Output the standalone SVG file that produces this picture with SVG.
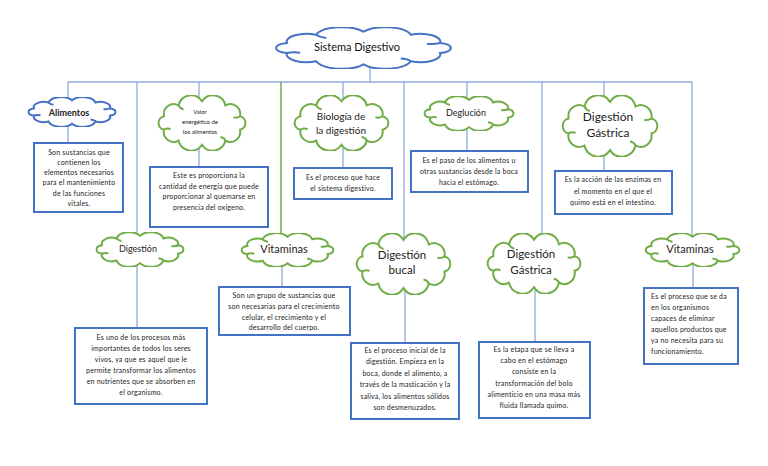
<svg xmlns="http://www.w3.org/2000/svg" xmlns:xlink="http://www.w3.org/1999/xlink" width="768" height="466" viewBox="0 0 768 466">
<defs>
<symbol id="cloud" viewBox="5 3 90 54" preserveAspectRatio="none">
<path vector-effect="non-scaling-stroke" d="M11.96,36.49 A6.6,6.6 0 0 1 11.96,23.51 A9.9,9.9 0 0 1 26.49,13.01 A13.1,13.1 0 0 1 50,9 A13.1,13.1 0 0 1 73.51,13.01 A9.9,9.9 0 0 1 88.04,23.51 A6.6,6.6 0 0 1 88.04,36.49 A9.9,9.9 0 0 1 73.51,46.99 A13.1,13.1 0 0 1 50,51 A13.1,13.1 0 0 1 26.49,46.99 A9.9,9.9 0 0 1 11.96,36.49 Z"/>
<path vector-effect="non-scaling-stroke" fill="none" d="M11.96,36.49 Q15,34.5 18.5,36 M88.04,23.51 Q85,25.5 81.5,24.5 M73.51,46.99 Q72,44 68.5,43.5 M26.49,13.01 Q28,16 31.5,17"/>
</symbol>
</defs>
<style>
.bg{fill:#ffffff}
.cb{fill:#ffffff;stroke:#4472c4;stroke-width:2}
.cg{fill:#ffffff;stroke:#70ad47;stroke-width:2}
.box{fill:#ffffff;stroke:#4472c4;stroke-width:2}
.ln{stroke:#8eaadb;stroke-width:1.3;fill:none}
.lg{stroke:#70ad47;stroke-width:1.5;fill:none}
text{font-family:Lato,"Liberation Sans",sans-serif;fill:#222;text-anchor:middle}
.t{font-size:7px;letter-spacing:0.2px}
.tl{font-size:7px;letter-spacing:0.2px;text-anchor:start}
.h{font-size:11px;fill:#111}
</style>
<rect class="bg" x="0" y="0" width="768" height="466"/>
<g id="connectors">
<line class="ln" x1="68" y1="82" x2="692" y2="82"/>
<line class="ln" x1="370" y1="62" x2="370" y2="82"/>
<line class="ln" x1="68" y1="82" x2="68" y2="102"/>
<line class="ln" x1="68" y1="122" x2="68" y2="143"/>
<line class="ln" x1="137" y1="82" x2="137" y2="238"/>
<line class="ln" x1="137" y1="262" x2="137" y2="328"/>
<line class="ln" x1="199" y1="82" x2="199" y2="102"/>
<line class="ln" x1="199" y1="145" x2="199" y2="167"/>
<line class="lg" x1="281" y1="82" x2="281" y2="238"/>
<line class="ln" x1="282" y1="262" x2="282" y2="287"/>
<line class="ln" x1="343" y1="82" x2="343" y2="102"/>
<line class="ln" x1="343" y1="145" x2="343" y2="168"/>
<line class="ln" x1="404" y1="82" x2="404" y2="240"/>
<line class="ln" x1="405" y1="288" x2="405" y2="343"/>
<line class="ln" x1="467" y1="82" x2="467" y2="102"/>
<line class="ln" x1="467" y1="125" x2="467" y2="151"/>
<line class="ln" x1="542" y1="82" x2="542" y2="240"/>
<line class="ln" x1="535" y1="288" x2="535" y2="342"/>
<line class="ln" x1="604" y1="82" x2="604" y2="102"/>
<line class="ln" x1="604" y1="150" x2="604" y2="171"/>
<line class="ln" x1="692" y1="82" x2="692" y2="240"/>
<line class="ln" x1="693" y1="262" x2="693" y2="288"/>
</g>
<g id="sistema-digestivo">
<use xlink:href="#cloud" href="#cloud" class="cb" x="273" y="27" width="181" height="42"/>
<text class="h" x="357" y="51">Sistema Digestivo</text>
</g>
<g id="alimentos">
<use href="#cloud" class="cb" x="27" y="97" width="90" height="30"/>
<text x="69" y="116" style="font-size:9px;font-weight:bold">Alimentos</text>
<rect class="box" x="34" y="143" width="89" height="69"/>
<text class="t" x="79" y="154.5">Son sustancias que</text>
<text class="t" x="79" y="164.8">contienen los</text>
<text class="t" x="79" y="175.1">elementos necesarios</text>
<text class="t" x="79" y="185.4">para el mantenimiento</text>
<text class="t" x="79" y="195.7">de las funciones</text>
<text class="t" x="79" y="206">vitales.</text>
</g>
<g id="valor-energetico">
<use href="#cloud" class="cg" x="157" y="95" width="90" height="56"/>
<text x="200" y="114" style="font-size:6px">Valor</text>
<text x="200" y="124" style="font-size:6px">energético de</text>
<text x="200" y="134" style="font-size:6px">los alimentos</text>
<rect class="box" x="150" y="167" width="118" height="60"/>
<text class="t" x="209" y="178">Este es proporciona la</text>
<text class="t" x="209" y="188.5">cantidad de energía que puede</text>
<text class="t" x="209" y="199">proporcionar al quemarse en</text>
<text class="t" x="209" y="209.5">presencia del oxígeno.</text>
</g>
<g id="biologia">
<use href="#cloud" class="cg" x="293" y="95" width="97" height="56"/>
<text x="341" y="119.5" style="font-size:10px">Biología de</text>
<text x="341" y="133.5" style="font-size:10px">la digestión</text>
<rect class="box" x="294" y="168" width="98" height="31"/>
<text class="t" x="343" y="179.5">Es el proceso que hace</text>
<text class="t" x="343" y="190.5">el sistema digestivo.</text>
</g>
<g id="deglucion">
<use href="#cloud" class="cg" x="423" y="96" width="92" height="35"/>
<text x="466" y="116" style="font-size:9px">Deglución</text>
<rect class="box" x="411" y="151" width="117" height="41"/>
<text class="t" x="469" y="162.5">Es el paso de los alimentos u</text>
<text class="t" x="469" y="173.5">otras sustancias desde la boca</text>
<text class="t" x="469" y="184.5">hacia el estómago.</text>
</g>
<g id="digestion-gastrica-1">
<use href="#cloud" class="cg" x="561" y="95" width="98" height="62"/>
<text x="608" y="121" style="font-size:12px">Digestión</text>
<text x="608" y="137" style="font-size:12px">Gástrica</text>
<rect class="box" x="555" y="171" width="117" height="43"/>
<text class="t" x="613" y="182">Es la acción de las enzimas en</text>
<text class="t" x="613" y="193.5">el momento en el que el</text>
<text class="t" x="613" y="204.5">quimo está en el intestino.</text>
</g>
<g id="digestion">
<use href="#cloud" class="cg" x="95" y="232" width="90" height="35"/>
<text x="138" y="252" style="font-size:9px">Digestión</text>
<rect class="box" x="75" y="328" width="132" height="76"/>
<text class="t" x="141" y="339.5">Es uno de los procesos más</text>
<text class="t" x="141" y="350.5">importantes de todos los seres</text>
<text class="t" x="141" y="361.5">vivos, ya que es aquel que le</text>
<text class="t" x="141" y="372.5">permite transformar los alimentos</text>
<text class="t" x="141" y="383.5">en nutrientes que se absorben en</text>
<text class="t" x="141" y="395">el organismo.</text>
</g>
<g id="vitaminas-1">
<use href="#cloud" class="cg" x="240" y="233" width="95" height="34"/>
<text x="284" y="253" style="font-size:11px">Vitaminas</text>
<rect class="box" x="219" y="287" width="131" height="48"/>
<text class="t" x="284" y="298">Son un grupo de sustancias que</text>
<text class="t" x="284" y="309">son necesarias para el crecimiento</text>
<text class="t" x="284" y="319.5">celular, el crecimiento y el</text>
<text class="t" x="284" y="330">desarrollo del cuerpo.</text>
</g>
<g id="digestion-bucal">
<use href="#cloud" class="cg" x="355" y="233" width="97" height="62"/>
<text x="402" y="259" style="font-size:11.5px">Digestión</text>
<text x="402" y="274" style="font-size:11.5px">bucal</text>
<rect class="box" x="351" y="343" width="108" height="76"/>
<text class="t" x="405" y="352.5">Es el proceso inicial de la</text>
<text class="t" x="405" y="364">digestión. Empieza en la</text>
<text class="t" x="405" y="375.5">boca, donde el alimento, a</text>
<text class="t" x="405" y="387">través de la masticación y la</text>
<text class="t" x="405" y="398.5">saliva, los alimentos sólidos</text>
<text class="t" x="405" y="410">son desmenuzados.</text>
</g>
<g id="digestion-gastrica-2">
<use href="#cloud" class="cg" x="486" y="233" width="96" height="61"/>
<text x="531" y="258" style="font-size:11.5px">Digestión</text>
<text x="531" y="274" style="font-size:11.5px">Gástrica</text>
<rect class="box" x="479" y="342" width="111" height="76"/>
<text class="t" x="534" y="351.5">Es la etapa que se lleva a</text>
<text class="t" x="534" y="363">cabo en el estómago</text>
<text class="t" x="534" y="374">consiste en la</text>
<text class="t" x="534" y="385.5">transformación del bolo</text>
<text class="t" x="534" y="397">alimenticio en una masa más</text>
<text class="t" x="534" y="408">fluida llamada quimo.</text>
</g>
<g id="vitaminas-2">
<use href="#cloud" class="cg" x="644" y="233" width="97" height="34"/>
<text x="690" y="253" style="font-size:11px">Vitaminas</text>
<rect class="box" x="644" y="288" width="94" height="76"/>
<text class="tl" x="651" y="298.5">Es el proceso que se da</text>
<text class="tl" x="651" y="309.8">en los organismos</text>
<text class="tl" x="651" y="320.8">capaces de eliminar</text>
<text class="tl" x="651" y="331.8">aquellos productos que</text>
<text class="tl" x="651" y="343.2">ya no necesita para su</text>
<text class="tl" x="651" y="353.5">funcionamiento.</text>
</g>
</svg>
